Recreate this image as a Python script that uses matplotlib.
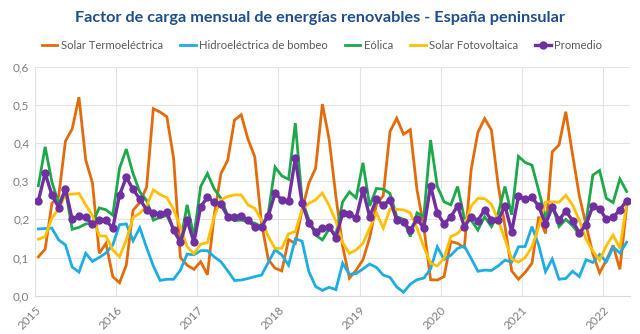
import matplotlib
matplotlib.use("Agg")
import matplotlib.pyplot as plt
import numpy as np

years = ["2015", "2016", "2017", "2018", "2019", "2020", "2021", "2022"]

solar_termo = [
    0.102, 0.122, 0.242, 0.26, 0.405, 0.437, 0.52, 0.356, 0.295, 0.111, 0.137, 0.05,
    0.034, 0.08, 0.224, 0.244, 0.284, 0.49, 0.481, 0.469, 0.36, 0.10, 0.08, 0.069,
    0.089, 0.055, 0.21, 0.32, 0.355, 0.46, 0.474, 0.41, 0.364, 0.19, 0.095, 0.072,
    0.065, 0.147, 0.137, 0.225, 0.295, 0.334, 0.502, 0.41, 0.26, 0.13, 0.046, 0.067,
    0.094, 0.152, 0.24, 0.262, 0.43, 0.465, 0.423, 0.435, 0.277, 0.181, 0.042, 0.041,
    0.05, 0.142, 0.137, 0.126, 0.33, 0.428, 0.464, 0.434, 0.29, 0.183, 0.065, 0.043,
    0.061, 0.085, 0.207, 0.163, 0.377, 0.395, 0.482, 0.37, 0.262, 0.185, 0.11, 0.06,
    0.093, 0.132, 0.069, 0.233,
]

hidro_bombeo = [
    0.175, 0.176, 0.177, 0.146, 0.133, 0.075, 0.062, 0.111, 0.09, 0.1, 0.112, 0.133,
    0.186, 0.188, 0.144, 0.178, 0.126, 0.078, 0.04, 0.043, 0.043, 0.067, 0.109, 0.107,
    0.118, 0.118, 0.102, 0.089, 0.065, 0.04, 0.041, 0.045, 0.05, 0.054, 0.087, 0.12,
    0.107, 0.08, 0.149, 0.143, 0.063, 0.024, 0.014, 0.022, 0.016, 0.085, 0.056, 0.058,
    0.07, 0.083, 0.074, 0.054, 0.048, 0.023, 0.009, 0.03, 0.042, 0.046, 0.07, 0.128,
    0.095, 0.106, 0.124, 0.13, 0.098, 0.064, 0.067, 0.066, 0.078, 0.093, 0.088, 0.128,
    0.129, 0.181, 0.132, 0.063, 0.096, 0.043, 0.045, 0.064, 0.05, 0.094, 0.087, 0.108,
    0.089, 0.127, 0.112, 0.14,
]

eolica = [
    0.288, 0.39, 0.298, 0.242, 0.277, 0.174, 0.179, 0.188, 0.19, 0.23, 0.225, 0.211,
    0.334, 0.384, 0.32, 0.272, 0.25, 0.198, 0.205, 0.21, 0.174, 0.14, 0.238, 0.155,
    0.286, 0.32, 0.28, 0.255, 0.21, 0.197, 0.198, 0.194, 0.19, 0.181, 0.216, 0.337,
    0.314, 0.305, 0.452, 0.25, 0.2, 0.159, 0.146, 0.175, 0.161, 0.246, 0.272, 0.256,
    0.348, 0.235, 0.281, 0.279, 0.268, 0.207, 0.2, 0.155, 0.217, 0.207, 0.408, 0.286,
    0.246, 0.238, 0.286, 0.203, 0.198, 0.172, 0.207, 0.181, 0.216, 0.286, 0.212, 0.365,
    0.349, 0.342, 0.275, 0.207, 0.236, 0.181, 0.2, 0.183, 0.161, 0.194, 0.316, 0.328,
    0.255, 0.244, 0.306, 0.273,
]

solar_fv = [
    0.148, 0.155, 0.203, 0.228, 0.265, 0.266, 0.268, 0.238, 0.21, 0.157, 0.156, 0.12,
    0.102, 0.146, 0.205, 0.216, 0.235, 0.277, 0.265, 0.257, 0.226, 0.18, 0.128, 0.11,
    0.135, 0.139, 0.207, 0.251, 0.26, 0.264, 0.264, 0.238, 0.229, 0.198, 0.155, 0.124,
    0.124, 0.162, 0.168, 0.225, 0.242, 0.251, 0.269, 0.236, 0.195, 0.139, 0.111, 0.12,
    0.137, 0.177, 0.217, 0.177, 0.227, 0.226, 0.225, 0.217, 0.177, 0.128, 0.085, 0.078,
    0.098, 0.155, 0.163, 0.183, 0.235, 0.255, 0.254, 0.24, 0.198, 0.148, 0.096, 0.088,
    0.1, 0.128, 0.181, 0.245, 0.246, 0.245, 0.263, 0.238, 0.198, 0.148, 0.117, 0.093,
    0.131, 0.159, 0.124, 0.24,
]

promedio = [
    0.249, 0.321, 0.264, 0.231, 0.279, 0.200, 0.210, 0.205, 0.188, 0.198, 0.198, 0.177,
    0.264, 0.310, 0.279, 0.253, 0.225, 0.216, 0.214, 0.219, 0.172, 0.140, 0.198, 0.140,
    0.233, 0.258, 0.245, 0.240, 0.207, 0.207, 0.210, 0.198, 0.181, 0.181, 0.209, 0.268,
    0.251, 0.249, 0.360, 0.242, 0.190, 0.168, 0.177, 0.181, 0.152, 0.216, 0.215, 0.203,
    0.277, 0.207, 0.253, 0.237, 0.251, 0.198, 0.192, 0.172, 0.201, 0.177, 0.288, 0.216,
    0.188, 0.207, 0.235, 0.181, 0.207, 0.197, 0.225, 0.198, 0.198, 0.236, 0.168, 0.261,
    0.253, 0.258, 0.234, 0.188, 0.232, 0.198, 0.222, 0.197, 0.164, 0.186, 0.235, 0.228,
    0.200, 0.205, 0.225, 0.249,
]

series = [
    ("Solar Termoeléctrica", solar_termo, "#E36C0A"),
    ("Hidroeléctrica de bombeo", hidro_bombeo, "#1CADE4"),
    ("Eólica", eolica, "#1DA84A"),
    ("Solar Fotovoltaica", solar_fv, "#FFC000"),
]

plt.rcParams['font.family'] = ['Lato', 'DejaVu Sans']

fig = plt.figure(figsize=(6.4, 3.34), dpi=100)
ax = fig.add_axes([0.0547, 0.1147, 0.9297, 0.6856])

n = len(promedio)
x = np.arange(n)
for name, vals, col in series:
    ax.plot(x, vals, color=col, lw=2.0, label=name, solid_joinstyle='miter')
ax.plot(x, promedio, color="#7030A0", lw=2.4, marker='o', markersize=5,
        label="Promedio")

ax.set_xlim(-0.5, n - 0.5)
ax.set_ylim(0, 0.6)
yt = np.arange(0, 0.61, 0.1)
ax.set_yticks(yt)
ax.set_yticklabels([f"{v:.1f}".replace('.', ',') for v in yt])
xt = np.arange(len(years)) * 12 - 0.5
ax.set_xticks(xt)
ax.set_xticklabels(years, rotation=45, ha='right', va='top', rotation_mode='anchor')
ax.tick_params(axis='both', length=0, colors='#7f7f7f', labelsize=8.5)
ax.tick_params(axis='x', pad=6)
ax.tick_params(axis='y', pad=4)
ax.grid(True, color='#e3e3e3', lw=0.8)
ax.set_axisbelow(True)
for s in ['top', 'right', 'left']:
    ax.spines[s].set_visible(False)
ax.spines['bottom'].set_color('#d9d9d9')

fig.text(0.5, 0.945, "Factor de carga mensual de energías renovables - España peninsular",
         ha='center', va='center', fontsize=11.7, fontweight='bold', color='#1F4E8C')

leg = fig.legend(loc='center', bbox_to_anchor=(0.503, 0.865), ncol=5, frameon=False,
                 fontsize=8.1, handlelength=1.4, handletextpad=0.3, columnspacing=1.5,
                 labelcolor='#595959')

fig.savefig("out.png", dpi=100)
